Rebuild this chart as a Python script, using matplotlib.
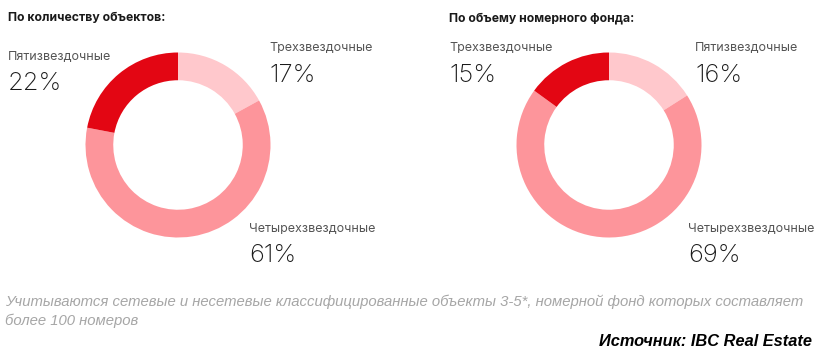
import matplotlib
matplotlib.use("Agg")
import matplotlib.pyplot as plt

W, H = 820, 355
DPI = 100

# Data
left_title = "По количеству объектов:"
left_labels = ["Трехзвездочные", "Четырехзвездочные", "Пятизвездочные"]
left_values = [17, 61, 22]

right_title = "По объему номерного фонда:"
right_labels = ["Пятизвездочные", "Четырехзвездочные", "Трехзвездочные"]
right_values = [16, 69, 15]

colors = ["#FFC8CC", "#FD959B", "#E30613"]

note_lines = ["Учитываются сетевые и несетевые классифицированные объекты 3-5*, номерной фонд которых составляет",
              "более 100 номеров"]
source = "Источник: IBC Real Estate"

fig = plt.figure(figsize=(W / DPI, H / DPI), dpi=DPI)
fig.patch.set_facecolor("white")

def px_axes(cx, cy, r):
    return fig.add_axes([(cx - r) / W, (H - (cy + r)) / H, 2 * r / W, 2 * r / H])

def donut(cx, cy, r, values):
    ax = px_axes(cx, cy, r)
    ax.pie(values, colors=colors, startangle=90, counterclock=False,
           radius=1.0, wedgeprops=dict(width=0.3, edgecolor="none", linewidth=0))
    ax.set_xlim(-1, 1)
    ax.set_ylim(-1, 1)
    ax.set_aspect("equal")
    ax.axis("off")

donut(178, 145, 92.5, left_values)
donut(609, 145, 92.5, right_values)

def t(x, y, s, **kw):
    fig.text(x / W, 1 - y / H, s, **kw)

FONT = "Inter"
lab_kw = dict(fontsize=9.0, color="#555555", family=FONT, va="center", ha="left")
pct_kw = dict(fontsize=18.3, color="#1a1a1a", family=FONT, weight="light", va="center", ha="left")
title_kw = dict(fontsize=8.8, color="#1a1a1a", family=FONT, weight="bold", va="center", ha="left")

t(8, 18, left_title, **title_kw)
t(449, 18, right_title, **title_kw)

# left chart labels
t(8, 57, left_labels[2], **lab_kw)
t(8, 84, f"{left_values[2]}%", **pct_kw)
t(269, 48, left_labels[0], **lab_kw)
t(269, 75, f"{left_values[0]}%", **pct_kw)
t(249, 229, left_labels[1], **lab_kw)
t(249, 256, f"{left_values[1]}%", **pct_kw)

# right chart labels
t(449, 48, right_labels[2], **lab_kw)
t(449, 75, f"{right_values[2]}%", **pct_kw)
t(695, 48, right_labels[0], **lab_kw)
t(695, 75, f"{right_values[0]}%", **pct_kw)
t(688, 229, right_labels[1], **lab_kw)
t(688, 256, f"{right_values[1]}%", **pct_kw)

note_kw = dict(fontsize=10.7, color="#a6a6a6", family="Liberation Sans", style="italic",
               va="center", ha="left")
t(5, 302, note_lines[0], **note_kw)
t(5, 321, note_lines[1], **note_kw)
t(812, 342, source, fontsize=11.8, color="#000000", family="Liberation Sans", style="italic",
  weight="bold", va="center", ha="right")

fig.savefig("out.png", dpi=DPI, facecolor="white")
